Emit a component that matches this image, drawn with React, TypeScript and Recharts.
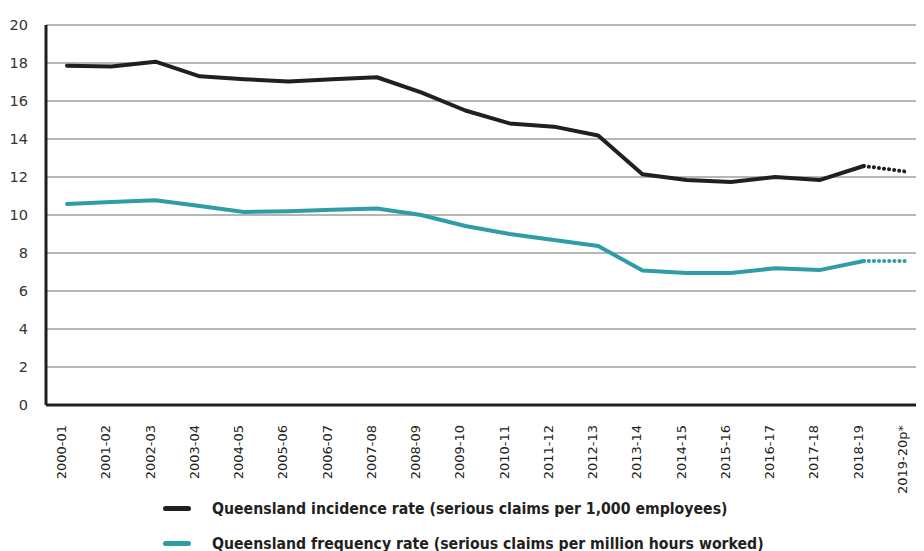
import { CartesianGrid, Legend, Line, LineChart, XAxis, YAxis } from 'recharts';

const categories = [
  '2000-01', '2001-02', '2002-03', '2003-04', '2004-05', '2005-06', '2006-07',
  '2007-08', '2008-09', '2009-10', '2010-11', '2011-12', '2012-13', '2013-14',
  '2014-15', '2015-16', '2016-17', '2017-18', '2018-19', '2019-20p*',
];

// serious claims per 1,000 employees
const incidence = [
  17.85, 17.82, 18.07, 17.3, 17.15, 17.02, 17.15, 17.25, 16.45, 15.5,
  14.82, 14.65, 14.18, 12.15, 11.84, 11.74, 12.0, 11.84, 12.58, 12.27,
];

// serious claims per million hours worked
const frequency = [
  10.58, 10.68, 10.78, 10.47, 10.16, 10.2, 10.28, 10.34, 10.0, 9.42,
  9.0, 8.68, 8.37, 7.08, 6.95, 6.95, 7.2, 7.1, 7.58, 7.58,
];

const yTicks = [0, 2, 4, 6, 8, 10, 12, 14, 16, 18, 20];

const DARK = '#231f20';
const TEAL = '#2f9da6';

// last year is provisional -> drawn dotted
const last = categories.length - 1;
const data = categories.map((cat, i) => ({
  cat,
  incidence: i < last ? incidence[i] : null,
  incidenceP: i >= last - 1 ? incidence[i] : null,
  frequency: i < last ? frequency[i] : null,
  frequencyP: i >= last - 1 ? frequency[i] : null,
}));

const legendItems = [
  { label: 'Queensland incidence rate (serious claims per 1,000 employees)', color: DARK },
  { label: 'Queensland frequency rate (serious claims per million hours worked)', color: TEAL },
];

function RotatedTick({ x, y, payload }: any) {
  return (
    <text
      x={x - 1}
      y={y}
      transform={`rotate(-90 ${x - 1} ${y})`}
      textAnchor="end"
      fill="#231f20"
      fontSize={13}
      fontFamily="DejaVu Sans"
    >
      {payload.value}
    </text>
  );
}

function LegendBox() {
  return (
    <div style={{ height: 68, paddingTop: 8, boxSizing: 'border-box', paddingLeft: 155 }}>
      {legendItems.map((item, i) => (
        <div key={i} style={{ display: 'flex', alignItems: 'center', height: 35 }}>
          <span
            style={{
              display: 'inline-block',
              width: 28,
              height: 5,
              borderRadius: 3,
              background: item.color,
              marginRight: 21,
            }}
          />
          <span
            style={{
              fontFamily: '"Liberation Sans Narrow", "DejaVu Sans Condensed", sans-serif',
              fontWeight: 700,
              fontSize: 15.7,
              color: DARK,
              whiteSpace: 'nowrap',
            }}
          >
            {item.label}
          </span>
        </div>
      ))}
    </div>
  );
}

export default function App() {
  return (
    <div style={{ width: 916, height: 543, overflow: 'hidden', fontFamily: 'DejaVu Sans' }}>
      <LineChart width={916} height={543} data={data} margin={{ top: 17, right: 0, bottom: 0, left: 0 }}>
        <CartesianGrid vertical={false} stroke="#6e6e6e" strokeWidth={1} />
        <XAxis
          dataKey="cat"
          interval={0}
          height={78}
          tickLine={false}
          tickMargin={14}
          axisLine={{ stroke: DARK, strokeWidth: 3 }}
          padding={{ left: 21, right: 16 }}
          tick={<RotatedTick />}
        />
        <YAxis
          domain={[0, 20]}
          ticks={yTicks}
          width={38}
          tickLine={false}
          tickMargin={12}
          axisLine={{ stroke: DARK, strokeWidth: 3 }}
          tick={{ fill: '#333', fontSize: 14.5, fontFamily: 'DejaVu Sans' }}
        />
        <Legend verticalAlign="bottom" align="left" content={<LegendBox />} wrapperStyle={{ left: 0, width: 916 }} />
        <Line dataKey="incidence" stroke={DARK} strokeWidth={4} dot={false} strokeLinejoin="round" strokeLinecap="round" isAnimationActive={false} />
        <Line dataKey="incidenceP" stroke={DARK} strokeWidth={4} dot={false} strokeDasharray="0.1 5" strokeLinecap="round" isAnimationActive={false} legendType="none" />
        <Line dataKey="frequency" stroke={TEAL} strokeWidth={4} dot={false} strokeLinejoin="round" strokeLinecap="round" isAnimationActive={false} />
        <Line dataKey="frequencyP" stroke={TEAL} strokeWidth={4} dot={false} strokeDasharray="0.1 5" strokeLinecap="round" isAnimationActive={false} legendType="none" />
      </LineChart>
    </div>
  );
}
